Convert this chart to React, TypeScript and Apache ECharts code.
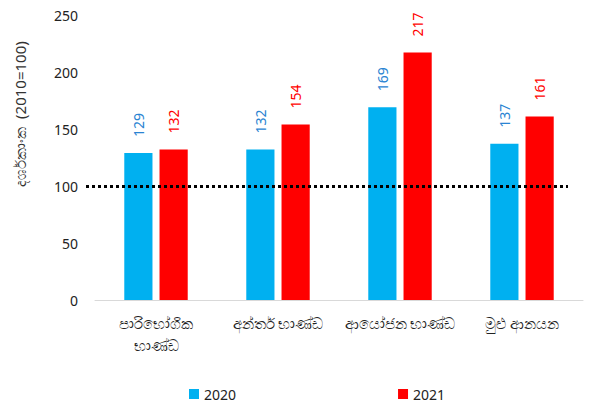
import React, { useEffect, useRef } from "react";
import * as echarts from "echarts";

const categories = ["පාරිභෝගික\nභාණ්ඩ", "අන්තර් භාණ්ඩ", "ආයෝජන භාණ්ඩ", "මුළු ආනයන"];
const series2020 = [129, 132, 169, 137];
const series2021 = [132, 154, 217, 161];
const baseValue = 100;
const yTicks = { min: 0, max: 250, interval: 50 };
const yTitle = "දර්ශකාංක  (2010=100)";

export default function App() {
  const ref = useRef<HTMLDivElement>(null);
  useEffect(() => {
    document.body.style.margin = "0";
    const chart = echarts.init(ref.current!, undefined, { renderer: "svg" });
    const font = "'Noto Sans', 'Open Sans', sans-serif";
    const labelCommon = {
      show: true,
      position: "top" as const,
      rotate: 90,
      distance: 16,
      align: "left" as const,
      verticalAlign: "middle" as const,
      fontSize: 14,
      fontFamily: font,
    };
    chart.setOption({
      animation: false,
      grid: { left: 95, right: 6, top: 15, bottom: 105, containLabel: false },
      legend: {
        data: ["2020", "2021"],
        left: 184,
        top: 382,
        itemWidth: 10,
        itemHeight: 10,
        itemGap: 162,
        icon: "rect",
        textStyle: { fontSize: 14, color: "#222", fontFamily: font },
      },
      graphic: [
        {
          type: "text",
          x: 20,
          y: 114,
          rotation: Math.PI / 2,
          style: {
            text: yTitle,
            fontSize: 15,
            fill: "#333",
            fontFamily: font,
            align: "center",
            verticalAlign: "middle",
          },
        },
      ],
      xAxis: {
        type: "category",
        data: categories,
        axisLine: { lineStyle: { color: "#d9d9d9", width: 1 } },
        axisTick: { show: false },
        axisLabel: { interval: 0, color: "#222", fontSize: 15, margin: 12, lineHeight: 22, fontFamily: font },
      },
      yAxis: {
        type: "value",
        min: yTicks.min,
        max: yTicks.max,
        interval: yTicks.interval,
        axisLine: { show: false },
        axisTick: { show: false },
        splitLine: { show: false },
        axisLabel: { color: "#222", fontSize: 14, margin: 17, fontFamily: font },
      },
      series: [
        {
          name: "2020",
          type: "bar",
          data: series2020,
          barGap: "25%",
          barCategoryGap: "48%",
          itemStyle: { color: "#00B0F0" },
          label: { ...labelCommon, color: "#2a84d2" },
          markLine: {
            symbol: "none",
            silent: true,
            label: { show: false },
            lineStyle: { color: "#000", type: [3, 3], width: 3 },
            data: [[{ x: 86, yAxis: baseValue }, { x: 568, yAxis: baseValue }]],
          },
        },
        {
          name: "2021",
          type: "bar",
          data: series2021,
          itemStyle: { color: "#FF0000" },
          label: { ...labelCommon, color: "#FF0000" },
        },
      ],
    });
    return () => chart.dispose();
  }, []);
  return <div ref={ref} style={{ width: 589, height: 405 }} />;
}
